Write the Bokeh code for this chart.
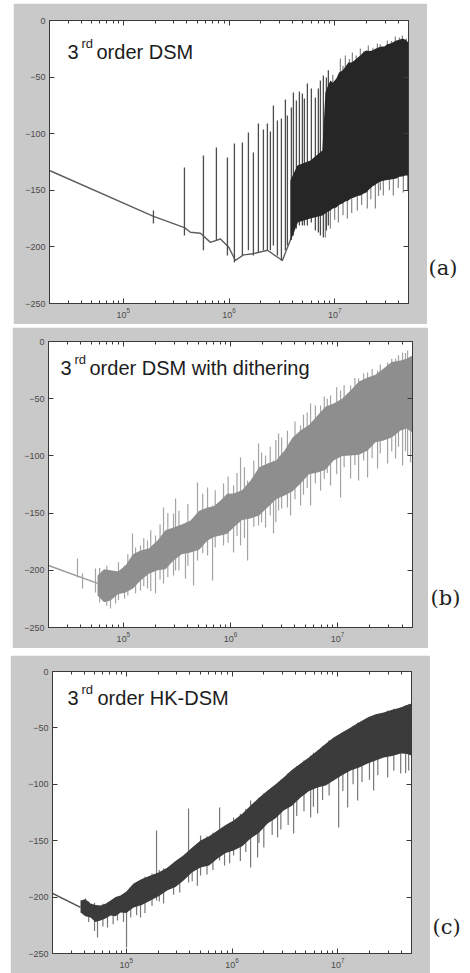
from bokeh.plotting import figure
from bokeh.models import Range1d, LogAxis, LinearAxis, LogTicker, FixedTicker, Label, Spacer
from bokeh.layouts import column, row
from bokeh.embed import file_html
from bokeh.resources import INLINE

# ---------------- common axes ----------------
X_MIN, X_MAX = 2.0e4, 5.0e7
Y_MIN, Y_MAX = -250, 0
Y_TICKS = [-250, -200, -150, -100, -50, 0]

# ---------------- panel (a): 3rd order DSM ----------------
A_TITLE = "order DSM"
A_LINE_F = [2.0e4, 1.93e5, 3.79e5, 4.32e5, 5.37e5, 6.67e5, 8.3e5, 9.9e5, 1.15e6,
            1.37e6, 1.70e6, 2.31e6, 3.2e6, 3.81e6, 4.44e6]
A_LINE_DB = [-132.5, -173.0, -183.0, -187.0, -188.0, -196.0, -193.0, -200.0, -212.0,
             -207.0, -206.0, -203.0, -212.0, -194.0, -178.0]
A_SPK_F = [1.927e5, 3.786e5, 5.728e5, 7.60e5, 9.66e5, 1.125e6, 1.339e6, 1.527e6,
           1.702e6, 1.898e6, 2.117e6, 2.309e6, 2.465e6, 2.632e6, 2.871e6, 3.133e6,
           3.418e6, 3.570e6, 3.895e6, 4.07e6, 4.344e6, 4.638e6, 4.95e6, 5.17e6,
           5.52e6, 6.02e6, 6.57e6, 7.01e6, 7.33e6, 7.82e6, 8.35e6, 8.72e6]
A_SPK_TOP = [-167.8, -129.9, -119.3, -112.2, -121.0, -108.7, -107.8, -98.9,
             -116.6, -91.0, -96.3, -91.0, -98.0, -75.1, -88.3, -86.6,
             -69.8, -84.0, -76.9, -63.6, -70.7, -62.7, -64.5, -68.9,
             -55.7, -60.0, -68.0, -60.0, -53.0, -48.6, -50.4, -44.0]
A_SPK_BOT = [-179.3, -190.0, -203.0, -194.0, -207.6, -213.8, -207.6, -203.0,
             -207.6, -205.0, -203.0, -203.0, -203.0, -198.8, -207.6, -212.0,
             -203.0, -198.8, -194.0, -190.0, -183.7, -181.0, -181.0, -181.0,
             -181.0, -178.4, -185.5, -187.3, -190.0, -191.7, -185.5, -181.0]
A_TEX_F = [9.6e6, 1.133e7, 1.2e7, 1.263e7, 1.38e7, 1.471e7, 1.6e7, 1.751e7, 1.9e7,
           2.084e7, 2.3e7, 2.536e7, 2.7e7, 3.153e7, 3.45e7, 3.753e7, 4.1e7, 4.37e7, 4.77e7,
           8.17e6, 9.11e6, 1.0e7, 1.085e7, 1.2e7, 1.319e7, 1.45e7, 1.640e7, 1.8e7,
           2.039e7, 2.2e7, 2.428e7, 2.6e7, 2.707e7, 2.890e7, 3.3e7, 3.593e7, 4.0e7,
           4.468e7, 4.9e7]
A_TEX_TOP = [-48.0, -33.6, -40.0, -30.9, -34.0, -28.3, -31.0, -24.7, -27.0,
             -22.0, -24.0, -20.3, -21.0, -17.7, -18.0, -14.1, -15.0, -13.3, -15.9,
             -150.2, -150.2, -160.0, -145.8, -155.0, -141.3, -150.0, -136.9, -145.0,
             -132.5, -140.0, -128.1, -138.0, -128.1, -123.7, -134.0, -123.7, -132.0,
             -123.7, -132.0]
A_TEX_BOT = [-70.0, -70.7, -60.0, -66.3, -55.0, -61.8, -50.0, -57.4, -45.0,
             -53.0, -45.0, -53.0, -40.0, -48.6, -40.0, -44.2, -35.0, -44.2, -44.2,
             -191.7, -183.7, -176.0, -178.4, -172.0, -175.0, -170.0, -167.8, -163.0,
             -166.0, -158.0, -166.0, -155.0, -150.0, -154.6, -150.0, -154.6, -148.0,
             -152.0, -150.0]
A_BAND_F = [3.81e6, 4.44e6, 5.89e6, 7.65e6, 8.17e6, 8.6e6, 9.11e6, 9.6e6, 1.038e7, 1.1e7,
            1.183e7, 1.26e7, 1.348e7, 1.44e7, 1.537e7, 1.64e7, 1.751e7, 1.87e7, 1.995e7,
            2.13e7, 2.274e7, 2.43e7, 2.592e7, 2.77e7, 2.953e7, 3.15e7, 3.366e7, 3.6e7,
            3.836e7, 4.1e7, 4.37e7, 4.7e7, 4.98e7]
A_BAND_HI = [-141.3, -128.1, -123.7, -114.8, -63.6, -58.0, -53.0, -55.0, -51.2, -46.0,
             -44.2, -41.0, -37.1, -37.0, -35.3, -33.0, -30.9, -28.0, -26.5,
             -27.0, -26.5, -25.0, -23.9, -23.0, -23.0, -21.0, -20.3, -19.0,
             -17.7, -17.0, -15.9, -17.0, -19.4]
A_BAND_LO = [-194.3, -178.4, -174.9, -172.3, -170.5, -169.0, -167.8, -166.0, -165.2, -163.0,
             -161.7, -160.0, -159.0, -157.0, -156.4, -155.0, -154.6, -153.0, -151.9,
             -149.0, -146.6, -145.0, -143.1, -142.0, -141.3, -141.0, -140.5, -140.0,
             -139.6, -138.0, -137.8, -137.0, -136.9]

# ---------------- panel (b): with dithering ----------------
B_TITLE = "order DSM with dithering"
B_LINE_F = [2.0e4, 5.74e4]
B_LINE_DB = [-195.8, -211.5]
B_BAND_F = [5.74e4, 6.6e4, 7.58e4, 8.9e4, 1.047e5, 1.23e5, 1.445e5, 1.73e5, 2.083e5,
            2.47e5, 2.939e5, 3.5e5, 4.236e5, 5.1e5, 6.105e5, 7.0e5, 8.07e5, 9.3e5,
            1.068e6, 1.28e6, 1.539e6, 1.85e6, 2.217e6, 2.66e6, 3.196e6, 3.8e6, 4.508e6,
            5.4e6, 6.496e6, 7.7e6, 9.165e6, 1.1e7, 1.321e7, 1.58e7, 1.903e7, 2.26e7,
            2.685e7, 3.2e7, 3.870e7, 4.4e7, 5.0e7]
B_BAND_HI = [-204.5, -199.0, -200.0, -201.0, -195.8, -186.0, -182.7, -181.0, -174.0,
             -165.0, -162.6, -160.0, -156.5, -148.0, -145.0, -144.0, -139.0, -133.0,
             -132.9, -130.0, -121.5, -110.0, -106.6, -104.0, -95.3, -84.0, -77.8,
             -73.0, -64.7, -57.0, -54.2, -50.0, -42.8, -35.0, -31.5, -29.0,
             -23.6, -18.0, -16.6, -15.0, -12.2]
B_BAND_LO = [-222.0, -228.0, -226.4, -221.0, -219.4, -216.0, -209.0, -203.0, -200.0,
             -199.0, -191.4, -186.0, -184.4, -182.0, -174.0, -171.0, -169.6, -168.0,
             -162.6, -156.0, -154.7, -152.0, -145.0, -138.0, -134.6, -131.0, -124.1,
             -116.0, -114.5, -112.0, -104.0, -100.0, -99.6, -99.0, -95.3, -88.0,
             -86.5, -84.0, -77.8, -76.0, -79.5]
B_SPK_F = [3.73e4, 4.155e4, 5.49e4, 6.52e4, 7.58e4, 8.45e4, 1.025e5, 1.217e5, 1.445e5,
           1.68e5, 1.995e5, 2.37e5, 2.939e5, 3.07e5, 3.80e5, 4.52e5, 4.92e5, 6.105e5,
           6.80e5, 8.61e5, 1.068e6, 1.241e6, 1.443e6, 1.827e6, 2.124e6, 2.52e6, 2.81e6,
           3.636e6, 4.508e6, 5.59e6, 6.93e6, 8.59e6, 1.065e7, 1.321e7, 1.569e7, 1.903e7,
           2.36e7, 2.926e7, 3.475e7, 4.04e7, 4.5e7, 4.8e7,
           6.0e4, 7.0e4, 9.0e4, 1.1e5, 1.3e5, 1.55e5, 1.8e5, 2.2e5, 2.6e5, 3.3e5, 4.0e5,
           5.5e5, 7.2e5, 9.5e5, 1.15e6, 1.35e6, 1.65e6, 1.95e6, 2.35e6, 2.65e6, 3.0e6,
           3.4e6, 4.0e6, 4.8e6, 5.2e6, 6.2e6, 7.5e6, 8.0e6, 9.8e6, 1.15e7, 1.45e7,
           1.75e7, 2.1e7, 2.5e7, 3.2e7, 3.7e7, 4.3e7]
B_SPK_TOP = [-189.7, -202.8, -198.4, -201.9, -204.5, -201.9, -195.8, -167.8, -178.3,
             -174.0, -169.6, -145.1, -150.3, -137.2, -162.6, -156.5, -123.2, -127.6,
             -143.4, -124.1, -125.9, -101.4, -121.5, -89.2, -99.6, -104.0, -80.4,
             -90.9, -73.4, -54.2, -55.9, -47.2, -42.8, -38.5, -32.3, -27.1,
             -25.3, -18.4, -14.9, -9.6, -7.9, -13.1,
             -198.0, -196.0, -193.0, -186.0, -180.0, -172.0, -165.0, -160.0, -150.0, -148.0, -142.0,
             -133.0, -130.0, -118.0, -115.0, -110.0, -104.0, -97.0, -92.0, -86.0, -84.0,
             -78.0, -70.0, -64.0, -62.0, -56.0, -48.0, -50.0, -40.0, -38.0, -32.0,
             -28.0, -24.0, -20.0, -15.0, -12.0, -10.0]
B_SPK_BOT = [-206.3, -215.9, -219.4, -226.4, -233.4, -229.0, -224.6, -213.3, -217.7,
             -215.9, -220.3, -211.5, -204.5, -200.2, -207.2, -213.3, -191.4, -187.0,
             -208.9, -178.3, -184.4, -178.3, -191.4, -160.8, -162.6, -167.8, -147.7,
             -152.1, -143.4, -143.4, -130.2, -125.9, -136.4, -119.8, -121.5, -118.9,
             -111.0, -106.6, -102.3, -108.4, -99.6, -105.8,
             -228.0, -231.0, -226.0, -222.0, -220.0, -214.0, -218.0, -208.0, -206.0, -200.0, -196.0,
             -185.0, -180.0, -176.0, -170.0, -172.0, -162.0, -158.0, -152.0, -158.0, -146.0,
             -145.0, -138.0, -134.0, -128.0, -124.0, -120.0, -115.0, -116.0, -110.0, -108.0,
             -104.0, -102.0, -98.0, -96.0, -92.0, -96.0]

# ---------------- panel (c): HK-DSM ----------------
C_TITLE = "order HK-DSM"
C_LINE_F = [2.0e4, 3.683e4]
C_LINE_DB = [-196.8, -209.2]
C_BAND_F = [3.683e4, 4.1e4, 4.58e4, 5.1e4, 5.695e4, 6.35e4, 7.085e4, 7.9e4, 8.81e4, 1.0e5,
            1.17e5, 1.4e5, 1.694e5, 2.04e5, 2.455e5, 2.92e5, 3.48e5, 4.2e5, 5.04e5, 6.07e5,
            7.30e5, 8.7e5, 1.035e6, 1.25e6, 1.50e6, 1.8e6, 2.173e6, 2.59e6, 3.08e6, 3.7e6,
            4.46e6, 5.37e6, 6.46e6, 7.7e6, 9.16e6, 1.1e7, 1.327e7, 1.6e7, 1.923e7, 2.29e7,
            2.726e7, 3.28e7, 3.95e7, 4.45e7, 5.0e7]
C_BAND_HI = [-203.0, -202.0, -205.7, -207.0, -207.4, -206.0, -203.0, -200.0, -198.6, -195.0,
             -188.0, -184.0, -180.8, -178.0, -173.8, -168.0, -163.0, -156.0, -149.8, -146.0,
             -141.0, -136.0, -132.0, -126.0, -118.8, -112.0, -105.5, -100.0, -94.0, -87.0,
             -81.6, -76.0, -70.0, -64.0, -58.5, -54.0, -49.6, -45.0, -40.8, -38.0,
             -36.3, -34.0, -31.9, -30.0, -28.4]
C_BAND_LO = [-213.6, -217.0, -218.0, -222.0, -220.7, -219.0, -216.3, -217.0, -213.6, -214.0,
             -209.2, -207.0, -203.0, -199.0, -194.0, -191.0, -185.3, -178.0, -173.8, -172.0,
             -165.8, -161.0, -158.7, -155.0, -148.0, -143.0, -134.7, -130.0, -123.2, -119.0,
             -111.7, -106.0, -102.8, -101.0, -96.6, -92.0, -87.8, -85.0, -81.6, -79.0,
             -76.2, -75.0, -72.7, -73.0, -74.5]
C_SPK_F = [4.107e4, 5.335e4, 6.63e4, 8.25e4, 1.004e5, 1.362e5, 1.931e5, 2.25e5,
           3.88e5, 5.04e5, 7.63e5, 1.035e6, 1.50e6, 1.747e6, 2.70e6, 3.83e6,
           5.55e6, 6.46e6, 1.022e7, 1.243e7, 1.546e7, 2.19e7, 2.973e7, 3.95e7, 4.70e7,
           4.4e4, 5.0e4, 6.0e4, 7.5e4, 9.4e4, 1.1e5, 1.25e5, 1.5e5, 1.75e5, 2.05e5,
           2.8e5, 3.2e5, 4.2e5, 4.7e5, 5.8e5, 6.6e5, 8.5e5, 9.5e5, 1.2e6, 1.35e6,
           1.8e6, 2.0e6, 2.4e6, 2.9e6, 3.4e6, 4.1e6, 4.8e6, 5.9e6, 7.2e6, 8.3e6,
           1.12e7, 1.4e7, 1.7e7, 2.0e7, 2.4e7, 3.4e7, 4.4e7]
C_SPK_TOP = [-201.2, -207.4, -205.7, -201.2, -198.6, -189.7, -141.0, -174.6,
             -121.5, -145.4, -120.6, -129.4, -114.4, -114.4, -101.1, -92.2,
             -74.5, -70.0, -62.9, -52.3, -45.2, -39.0, -34.6, -31.9, -29.3,
             -204.0, -205.0, -206.0, -203.0, -198.0, -193.0, -189.0, -182.0, -179.0, -176.0,
             -170.0, -166.0, -157.0, -154.0, -146.0, -143.0, -137.0, -134.0, -126.0, -122.0,
             -112.0, -108.0, -103.0, -96.0, -90.0, -84.0, -79.0, -72.0, -66.0, -61.0,
             -54.0, -48.0, -44.0, -40.0, -38.0, -33.0, -30.0]
C_SPK_BOT = [-216.3, -235.8, -227.0, -220.7, -244.7, -218.1, -203.0, -205.7,
             -187.0, -180.8, -167.5, -163.1, -173.8, -164.9, -147.2, -143.6,
             -129.4, -125.9, -138.3, -120.6, -114.4, -105.5, -94.0, -90.4, -87.8,
             -222.0, -230.0, -226.0, -224.0, -222.0, -218.0, -216.0, -214.0, -208.0, -204.0,
             -198.0, -196.0, -186.0, -190.0, -180.0, -176.0, -172.0, -170.0, -168.0, -160.0,
             -152.0, -156.0, -145.0, -140.0, -136.0, -128.0, -124.0, -120.0, -114.0, -110.0,
             -106.0, -100.0, -98.0, -96.0, -92.0, -88.0, -90.0]

# ---------------- styling ----------------
GREY = "#c9c9c9"
AX = "#3a3a3a"
FONT = "Liberation Sans"


def style_axis(ax, labels):
    ax.axis_line_color = AX
    ax.axis_line_width = 1
    ax.major_tick_in = 5
    ax.major_tick_out = 0
    ax.minor_tick_in = 3
    ax.minor_tick_out = 0
    ax.major_tick_line_color = AX
    ax.minor_tick_line_color = AX
    ax.major_label_text_font = FONT
    if labels:
        ax.major_label_text_color = "#4a4a4a"
        ax.major_label_text_font_size = "9px"
        ax.major_label_standoff = 4
    else:
        ax.major_label_text_alpha = 0.0
        ax.major_label_text_font_size = "2px"
        ax.major_label_standoff = 0


def make_panel(w, h, left, right, top, bottom):
    p = figure(width=w, height=h, x_axis_type="log",
               x_range=Range1d(X_MIN, X_MAX), y_range=Range1d(Y_MIN, Y_MAX),
               output_backend="svg", toolbar_location=None,
               min_border_left=left, min_border_right=right,
               min_border_top=top, min_border_bottom=bottom)
    p.border_fill_color = GREY
    p.background_fill_color = "white"
    p.outline_line_color = AX
    p.xgrid.visible = False
    p.ygrid.visible = False
    p.xaxis.ticker = LogTicker(num_minor_ticks=10)
    p.yaxis.ticker = FixedTicker(ticks=Y_TICKS)
    style_axis(p.xaxis[0], True)
    style_axis(p.yaxis[0], True)
    p.yaxis[0].minor_tick_line_color = None
    top_ax = LogAxis(ticker=LogTicker(num_minor_ticks=10))
    style_axis(top_ax, False)
    p.add_layout(top_ax, "above")
    right_ax = LinearAxis(ticker=FixedTicker(ticks=Y_TICKS))
    style_axis(right_ax, False)
    right_ax.minor_tick_line_color = None
    p.add_layout(right_ax, "right")
    return p


def add_title(p, rest, x3, xrd, xrest, yrd, ybase):
    common = dict(x=X_MIN, y=Y_MAX, text_font=FONT, text_color="#1c1c1c",
                  text_baseline="alphabetic", text_align="left")
    p.add_layout(Label(text="3", x_offset=x3, y_offset=-ybase, text_font_size="20px", **common))
    p.add_layout(Label(text="rd", x_offset=xrd, y_offset=-yrd, text_font_size="13px", **common))
    p.add_layout(Label(text=rest, x_offset=xrest, y_offset=-ybase, text_font_size="20px", **common))


def tag_fig(text, w, h, x, y):
    t = figure(width=w, height=h, x_range=Range1d(0, w), y_range=Range1d(0, h),
               output_backend="svg", toolbar_location=None, title=None,
               x_axis_location=None, y_axis_location=None,
               min_border_left=0, min_border_right=0, min_border_top=0, min_border_bottom=0)
    t.outline_line_color = None
    t.xgrid.visible = False
    t.ygrid.visible = False
    t.background_fill_color = "white"
    t.border_fill_color = "white"
    t.add_layout(Label(x=x, y=y, text=text, text_font="DejaVu Serif",
                       text_font_size="21px", text_color="#222222",
                       text_baseline="middle", text_align="left"))
    return t


def pairs(f, a, b):
    order = sorted(range(len(f)), key=lambda i: f[i])
    return [f[i] for i in order], [a[i] for i in order], [b[i] for i in order]


# ---- (a)
pa = make_panel(414, 321, 36, 19, 17, 21)
pa.line(A_LINE_F, A_LINE_DB, line_color="#5e5e5e", line_width=1.4)
pa.segment(x0=A_SPK_F, y0=A_SPK_BOT, x1=A_SPK_F, y1=A_SPK_TOP, line_color="#4d4d4d", line_width=1.3)
pa.segment(x0=A_TEX_F, y0=A_TEX_BOT, x1=A_TEX_F, y1=A_TEX_TOP, line_color="#858585", line_width=1.2)
fa, la, ha = pairs(A_BAND_F, A_BAND_LO, A_BAND_HI)
pa.varea(x=fa, y1=la, y2=ha, fill_color="#262626")
add_title(pa, A_TITLE, 18, 32, 47, 23, 31)

# ---- (b)
pb = make_panel(416, 321, 36, 16, 14, 21)
pb.line(B_LINE_F, B_LINE_DB, line_color="#9a9a9a", line_width=1.4)
pb.segment(x0=B_SPK_F, y0=B_SPK_BOT, x1=B_SPK_F, y1=B_SPK_TOP, line_color="#a4a4a4", line_width=1.2)
fb, lb_, hb = pairs(B_BAND_F, B_BAND_LO, B_BAND_HI)
pb.varea(x=fb, y1=lb_, y2=hb, fill_color="#8e8e8e")
add_title(pb, B_TITLE, 12, 26, 41, 18, 26)

# ---- (c)
pc = make_panel(420, 318, 42, 19, 16, 20)
pc.line(C_LINE_F, C_LINE_DB, line_color="#4a4a4a", line_width=1.4)
pc.segment(x0=C_SPK_F, y0=C_SPK_BOT, x1=C_SPK_F, y1=C_SPK_TOP, line_color="#787878", line_width=1.2)
fc, lc_, hc = pairs(C_BAND_F, C_BAND_LO, C_BAND_HI)
pc.varea(x=fc, y1=lc_, y2=hc, fill_color="#3b3b3b")
add_title(pc, C_TITLE, 15, 29, 45, 18, 26)

ta = tag_fig("(a)", 43, 321, 1, 40)
tb = tag_fig("(b)", 42, 321, 2, 33)
tc = tag_fig("(c)", 40, 318, 2, 30)

layout = column(
    Spacer(width=10, height=3),
    row(Spacer(width=13, height=321), pa, ta),
    Spacer(width=10, height=3),
    row(Spacer(width=12, height=321), pb, tb),
    Spacer(width=10, height=7),
    row(Spacer(width=10, height=318), pc, tc),
)

open("out.html", "w").write(file_html(layout, INLINE))
